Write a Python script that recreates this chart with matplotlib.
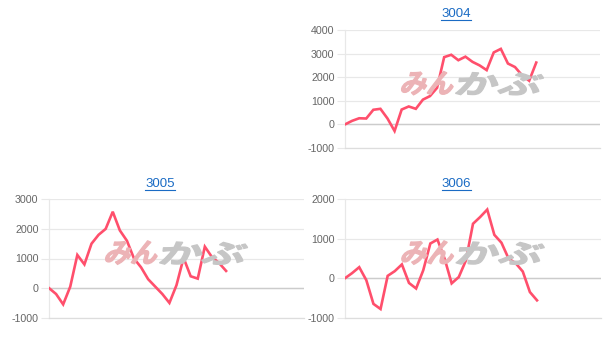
import matplotlib
matplotlib.use("Agg")
import matplotlib.pyplot as plt
from matplotlib.lines import Line2D
from matplotlib.textpath import TextPath
from matplotlib.patches import PathPatch
from matplotlib.font_manager import FontProperties
from matplotlib.transforms import Affine2D, IdentityTransform

titles = ["3004", "3005", "3006"]

s3004 = [0, 150, 260, 250, 620, 660, 250, -280, 630, 760, 660, 1050, 1200, 1550,
         2850, 2950, 2720, 2870, 2650, 2500, 2300, 3050, 3200, 2580, 2430, 2080, 1850, 2620]
s3005 = [0, -200, -550, 50, 1120, 800, 1500, 1800, 2000, 2580, 1950, 1600, 1000, 700,
         300, 50, -200, -500, 100, 1020, 400, 320, 1400, 1050, 850, 580]
s3006 = [0, 130, 280, -50, -650, -780, 60, 180, 350, -120, -260, 200, 880, 980,
         500, -130, 30, 450, 1380, 1550, 1740, 1100, 900, 500, 380, 170, -350, -560]

yticks_3004 = [-1000, 0, 1000, 2000, 3000, 4000]
yticks_3005 = [-1000, 0, 1000, 2000, 3000]
yticks_3006 = [-1000, 0, 1000, 2000]
n_labels = 37
watermark = ["みん", "かぶ"]

W, H = 612, 343
fig = plt.figure(figsize=(W / 100, H / 100), dpi=100)
fig.patch.set_facecolor("white")

LINE = "#ff4f6c"
GRID = "#e8e8e8"
TICKC = "#666666"
wm_fp = FontProperties(family="Noto Sans CJK JP", weight="bold")


def add_wm(text, x0, y0, w, h, color):
    tp = TextPath((0, 0), text, size=1, prop=wm_fp)
    bb = tp.get_extents()
    tr = (Affine2D().translate(-bb.x0, -bb.y0)
          .scale(w / bb.width, h / bb.height)
          .skew_deg(16, 0)
          .translate(x0, y0))
    patch = PathPatch(tr.transform_path(tp), facecolor=color, edgecolor=color,
                      linewidth=0.9, transform=IdentityTransform(), zorder=1.5)
    fig.add_artist(patch)


def make_ax(left_px, right_px, top_px, bottom_px, series, yticks, title, tx, ty):
    ax = fig.add_axes([left_px / W, (H - bottom_px) / H,
                       (right_px - left_px) / W, (bottom_px - top_px) / H])
    ax.set_xlim(0, n_labels - 1)
    ax.set_ylim(yticks[0], yticks[-1])
    ax.set_yticks(yticks)
    ax.set_yticklabels([str(v) for v in yticks], family="Liberation Sans",
                       fontsize=7.7, color=TICKC)
    ax.tick_params(axis="y", length=6, width=0.8, color=GRID, pad=1.5)
    ax.set_xticks([])
    for sp in ["top", "right"]:
        ax.spines[sp].set_visible(False)
    ax.spines["left"].set_color(GRID)
    ax.spines["bottom"].set_color("#dddddd")
    ax.spines["left"].set_linewidth(0.9)
    ax.spines["bottom"].set_linewidth(0.9)
    ax.grid(axis="y", color=GRID, linewidth=0.9)
    ax.axhline(0, color="#cccccc", linewidth=1.0, zorder=1)
    ax.set_axisbelow(True)
    ax.patch.set_alpha(0)
    aw = right_px - left_px
    ah = bottom_px - top_px
    wm_y = (H - bottom_px) + 0.45 * ah
    add_wm(watermark[0], left_px + 0.215 * aw, wm_y, 0.20 * aw, 0.20 * ah, "#ecb3b6")
    add_wm(watermark[1], left_px + 0.43 * aw, wm_y, 0.33 * aw, 0.19 * ah, "#c6c6c6")
    x = list(range(len(series)))
    ax.plot(x, series, color=LINE, linewidth=1.9, solid_joinstyle="miter", zorder=3)
    t = fig.text(tx / W, 1 - ty / H, title, ha="center", va="center",
                 family="Liberation Sans", fontsize=9.5, color="#1a6bc4")
    return ax, t


axes = []
axes.append(make_ax(345, 600, 30, 148, s3004, yticks_3004, titles[0], 456, 14))
axes.append(make_ax(49, 304, 199.3, 317.7, s3005, yticks_3005, titles[1], 160, 184))
axes.append(make_ax(345, 601, 199.3, 317.7, s3006, yticks_3006, titles[2], 456.5, 184))

fig.canvas.draw()
r = fig.canvas.get_renderer()
for ax, t in axes:
    bb = t.get_window_extent(r)
    yl = (bb.y0 + 0.5) / H
    fig.add_artist(Line2D([bb.x0 / W, bb.x1 / W], [yl, yl],
                          color="#1a6bc4", linewidth=0.8, transform=fig.transFigure))

fig.savefig("out.png", dpi=100, facecolor="white")
